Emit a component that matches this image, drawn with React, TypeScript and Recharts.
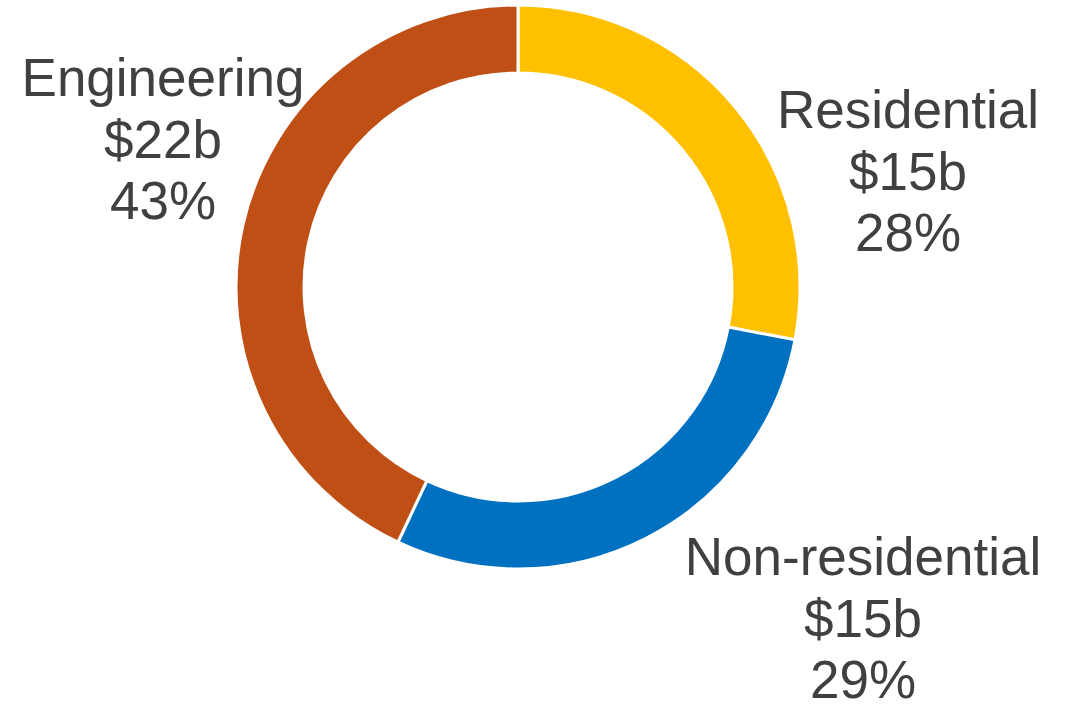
import React from "react";
import { PieChart, Pie, Cell } from "recharts";

const categories = ["Residential", "Non-residential", "Engineering"];
const shares = [28, 29, 43];
const amounts = ["$15b", "$15b", "$22b"];
const colors = ["#FFC000", "#0070C0", "#C04F15"];

const data = categories.map((name, i) => ({ name, value: shares[i], amount: amounts[i] }));

// label anchor offsets relative to pie centre (first baseline)
const labelOffsets = [
  { dx: 390, dy: -159 },
  { dx: 345, dy: 288 },
  { dx: -355, dy: -191 },
];

const FONT = "'Liberation Sans', Arial, sans-serif";

const renderLabel = (props: any) => {
  const { cx, cy, index } = props;
  const o = labelOffsets[index];
  const x = cx + o.dx;
  const y = cy + o.dy;
  const d = data[index];
  return (
    <text
      x={x}
      y={y}
      textAnchor="middle"
      fill="#404040"
      fontSize={53}
      fontFamily={FONT}
    >
      <tspan x={x} y={y}>{d.name}</tspan>
      <tspan x={x} y={y + 62}>{d.amount}</tspan>
      <tspan x={x} y={y + 123}>{d.value}%</tspan>
    </text>
  );
};

export default function App() {
  return (
    <div style={{ position: "absolute", left: 0, top: 0, width: 1071, height: 705, background: "#fff" }}>
      <PieChart width={1071} height={705} margin={{ top: 0, right: 0, bottom: 0, left: 0 }}>
        <Pie
          data={data}
          dataKey="value"
          nameKey="name"
          cx={518}
          cy={287}
          innerRadius={214}
          outerRadius={282}
          startAngle={90}
          endAngle={-270}
          stroke="#ffffff"
          strokeWidth={3}
          isAnimationActive={false}
          labelLine={false}
          label={renderLabel}
        >
          {data.map((d, i) => (
            <Cell key={d.name} fill={colors[i]} />
          ))}
        </Pie>
      </PieChart>
    </div>
  );
}
